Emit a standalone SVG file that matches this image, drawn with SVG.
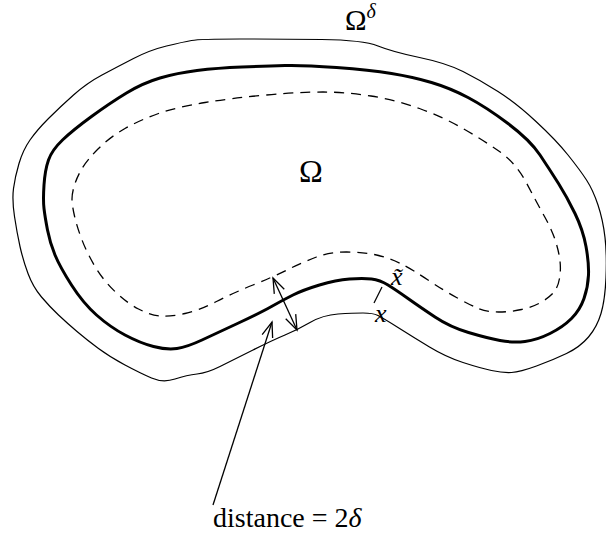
<svg xmlns="http://www.w3.org/2000/svg" width="606" height="536" viewBox="0 0 606 536">
<style>
.c{fill:none;stroke:#000;stroke-linejoin:round}
.outer{stroke-width:1.2}
.thick{stroke-width:3}
.dash{stroke-width:1.3;stroke-dasharray:10 7}
.arr{fill:none;stroke:#000;stroke-width:1.3}
.t{font-family:"Liberation Serif","Times New Roman",serif;fill:#000}
.i{font-style:italic}
</style>
<defs>
<marker id="ah" markerUnits="userSpaceOnUse" markerWidth="20" markerHeight="14" viewBox="-17 -7 19 14" refX="0" refY="0" orient="auto-start-reverse" overflow="visible">
<path d="M-15,-5.5 L0,0 L-15,5.5" fill="none" stroke="#000" stroke-width="1.3"/>
</marker>
</defs>
<g id="omega-delta">
<path class="c outer" d="M191.5,40.5 Q200,39 240,39 Q280,39 321.5,39.5 Q363,40 378,46 Q393,52 419.5,57.5 Q446,63 463,71.5 Q480,80 498,91.5 Q516,103 536,121.5 Q556,140 568,155 Q580,170 586.5,180 Q593,190 598,205 Q603,220 605,237.5 Q607,255 606,277.5 Q605,300 601,313.5 Q597,327 588.5,337 Q580,347 566.5,353.5 Q553,360 536.5,366 Q520,372 511.5,372.5 Q503,373 491.5,370.5 Q480,368 463,362.5 Q446,357 429.5,347 Q413,337 398,327.5 Q383,318 378,315.5 Q373,313 363,313 Q353,313 338,314 Q323,315 310,322.5 Q297,330 285,335 Q273,340 253,350 Q233,360 220,366.5 Q207,373 197,374 Q187,375 175,379 Q163,383 151.5,378 Q140,373 125,365 Q110,357 98.5,348.5 Q87,340 77,331.5 Q67,323 58.5,315 Q50,307 41.5,297 Q33,287 28,273.5 Q23,260 20,246.5 Q17,233 14.5,216.5 Q12,200 13.5,188.5 Q15,177 19,163.5 Q23,150 30,140 Q37,130 48.5,118.5 Q60,107 73.5,95 Q87,83 102,75 Q117,67 133.5,58.5 Q150,50 166.5,46 Q183,42 191.5,40.5 Z"/>
<text class="t" x="345" y="30" font-size="29">Ω<tspan class="i" font-size="20" dy="-12">δ</tspan></text>
</g>
<g id="omega">
<path class="c thick" d="M44,208.5 Q43,200 44,185 Q45,170 48.5,160 Q52,150 62.5,140 Q73,130 91.5,116.5 Q110,103 126.5,93 Q143,83 160,78 Q177,73 197,70.5 Q217,68 242,67 Q267,66 285,65.5 Q303,65 336.5,67.5 Q370,70 391.5,73.5 Q413,77 431.5,82.5 Q450,88 468,97.5 Q486,107 508,123.5 Q530,140 540,155 Q550,170 558.5,183.5 Q567,197 575,213.5 Q583,230 586,246.5 Q589,263 588.5,275 Q588,287 584,298.5 Q580,310 571.5,318.5 Q563,327 550,333.5 Q537,340 525,341.5 Q513,343 500,340.5 Q487,338 468.5,332.5 Q450,327 435,317 Q420,307 408,298.5 Q396,290 388,285 Q380,280 371.5,279 Q363,278 349.5,279 Q336,280 319.5,285 Q303,290 293,295 Q283,300 271.5,306.5 Q260,313 238.5,323 Q217,333 202,340 Q187,347 177,348.5 Q167,350 153.5,346.5 Q140,343 125,335 Q110,327 96.5,315 Q83,303 71.5,285 Q60,267 55,255 Q50,243 47.5,230 Q45,217 44,208.5 Z"/>
<text class="t" x="311" y="182" font-size="32" text-anchor="middle">Ω</text>
</g>
<g id="inner">
<path class="c dash" d="M72,199 Q72,193 74.5,185 Q77,177 82,168.5 Q87,160 98.5,148.5 Q110,137 125,128.5 Q140,120 158.5,113.5 Q177,107 205,102.5 Q233,98 266.5,95 Q300,92 323,92 Q346,92 371,96 Q396,100 419.5,108.5 Q443,117 463,128.5 Q483,140 499.5,151.5 Q516,163 526.5,183 Q537,203 544.5,216.5 Q552,230 555.5,241 Q559,252 560,261 Q561,270 559.5,278.5 Q558,287 554,292 Q550,297 541.5,302 Q533,307 521.5,309.5 Q510,312 498.5,312 Q487,312 478.5,308.5 Q470,305 456.5,297.5 Q443,290 428,280 Q413,270 401.5,264 Q390,258 376.5,255 Q363,252 346.5,252 Q330,252 316.5,257 Q303,262 288,269.5 Q273,277 253,285 Q233,293 216.5,301.5 Q200,310 185,313.5 Q170,317 160,316 Q150,315 138.5,309 Q127,303 115,291.5 Q103,280 95,266.5 Q87,253 82,240 Q77,227 74.5,216 Q72,205 72,199 Z"/>
</g>
<g id="points">
<text class="t i" x="391" y="285" font-size="26">x̃</text>
<text class="t i" x="375" y="322" font-size="26">x</text>
</g>
<g id="label">
<text class="t" x="213" y="527" font-size="28">distance = 2<tspan class="i">δ</tspan></text>
</g>
<g id="connectors">
<path class="arr" d="M273,278 L297,330" marker-start="url(#ah)" marker-end="url(#ah)"/>
<path class="arr" d="M213,505 L272,322" marker-end="url(#ah)"/>
<path class="arr" d="M382,287 L374,303"/>
</g>
</svg>
